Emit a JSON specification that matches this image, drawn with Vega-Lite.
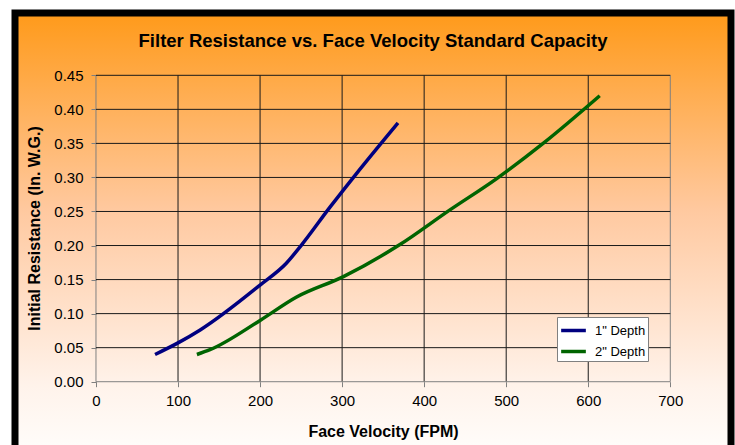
{
  "$schema": "https://vega.github.io/schema/vega-lite/v6.json",
  "width": 716,
  "height": 440,
  "autosize": {"type": "none"},
  "padding": {"left": 15, "top": 13, "right": 4, "bottom": -8},
  "background": "white",
  "title": {
    "text": "Filter Resistance vs. Face Velocity Standard Capacity",
    "font": "Liberation Sans",
    "fontSize": 18.5,
    "fontWeight": "bold",
    "color": "black",
    "anchor": "middle",
    "offset": -37
  },
  "config": {
    "view": {
      "fill": {
        "gradient": "linear",
        "x1": 0, "y1": 0, "x2": 0, "y2": 1,
        "stops": [
          {"offset": 0, "color": "#FF9A1A"},
          {"offset": 0.45, "color": "#FFC9A0"},
          {"offset": 0.85, "color": "#FFF3EB"},
          {"offset": 1, "color": "#FFFDFB"}
        ]
      },
      "stroke": "black",
      "strokeWidth": 7
    },
    "axisX": {
      "offset": -71.3,
      "grid": false, "domain": false,
      "tickSize": 5, "tickColor": "#808080",
      "labelFont": "Liberation Sans", "labelFontSize": 15, "labelColor": "black",
      "labelPadding": 7, "labelFlush": false, "labelOverlap": false,
      "titleFont": "Liberation Sans", "titleFontSize": 16, "titleFontWeight": "bold", "titleColor": "black",
      "titleX": 368, "titlePadding": 15
    },
    "axisY": {
      "offset": -81,
      "grid": false, "domain": false,
      "tickSize": 5, "tickColor": "#808080",
      "labelFont": "Liberation Sans", "labelFontSize": 15, "labelColor": "black",
      "labelPadding": 8, "labelOverlap": false,
      "titleFont": "Liberation Sans", "titleFontSize": 16, "titleFontWeight": "bold", "titleColor": "black",
      "titleY": 215, "titlePadding": 11
    }
  },
  "datasets": {
    "gridx": [{"v": 0}, {"v": 100}, {"v": 200}, {"v": 300}, {"v": 400}, {"v": 500}, {"v": 600}, {"v": 700}],
    "gridy": [{"v": 0}, {"v": 0.05}, {"v": 0.1}, {"v": 0.15}, {"v": 0.2}, {"v": 0.25}, {"v": 0.3}, {"v": 0.35}, {"v": 0.4}, {"v": 0.45}],
    "curves": [
      {"depth": "1\" Depth", "fpm": 72, "res": 0.040},
      {"depth": "1\" Depth", "fpm": 100, "res": 0.057},
      {"depth": "1\" Depth", "fpm": 127, "res": 0.076},
      {"depth": "1\" Depth", "fpm": 200, "res": 0.142},
      {"depth": "1\" Depth", "fpm": 232, "res": 0.174},
      {"depth": "1\" Depth", "fpm": 250, "res": 0.200},
      {"depth": "1\" Depth", "fpm": 285, "res": 0.256},
      {"depth": "1\" Depth", "fpm": 317, "res": 0.305},
      {"depth": "1\" Depth", "fpm": 368, "res": 0.380},
      {"depth": "2\" Depth", "fpm": 123, "res": 0.040},
      {"depth": "2\" Depth", "fpm": 139, "res": 0.047},
      {"depth": "2\" Depth", "fpm": 200, "res": 0.090},
      {"depth": "2\" Depth", "fpm": 244, "res": 0.124},
      {"depth": "2\" Depth", "fpm": 301, "res": 0.154},
      {"depth": "2\" Depth", "fpm": 370, "res": 0.201},
      {"depth": "2\" Depth", "fpm": 431, "res": 0.252},
      {"depth": "2\" Depth", "fpm": 488, "res": 0.298},
      {"depth": "2\" Depth", "fpm": 545, "res": 0.350},
      {"depth": "2\" Depth", "fpm": 614, "res": 0.420}
    ]
  },
  "layer": [
    {
      "data": {"name": "gridx"},
      "mark": {"type": "rule", "strokeWidth": 1},
      "encoding": {
        "x": {"field": "v", "type": "quantitative", "title": "Face Velocity (FPM)", "scale": {"domain": [-98.7, 774.0], "nice": false, "zero": false}, "axis": {"values": [0, 100, 200, 300, 400, 500, 600, 700]}},
        "y": {"datum": 0, "type": "quantitative", "title": "Initial Resistance (In. W.G.)", "scale": {"domain": [-0.1047, 0.5415], "nice": false, "zero": false}, "axis": {"values": [0, 0.05, 0.1, 0.15, 0.2, 0.25, 0.3, 0.35, 0.4, 0.45], "format": ".2f"}},
        "y2": {"datum": 0.45},
        "color": {"condition": {"test": "datum.v == 0 || datum.v == 700", "value": "#808080"}, "value": "#1a1a1a"}
      }
    },
    {
      "data": {"name": "gridy"},
      "mark": {"type": "rule", "strokeWidth": 1},
      "encoding": {
        "y": {"field": "v", "type": "quantitative", "title": "Initial Resistance (In. W.G.)", "scale": {"domain": [-0.1047, 0.5415], "nice": false, "zero": false}, "axis": {"values": [0, 0.05, 0.1, 0.15, 0.2, 0.25, 0.3, 0.35, 0.4, 0.45], "format": ".2f"}},
        "x": {"datum": 0, "type": "quantitative", "title": "Face Velocity (FPM)", "scale": {"domain": [-98.7, 774.0], "nice": false, "zero": false}, "axis": {"values": [0, 100, 200, 300, 400, 500, 600, 700]}},
        "x2": {"datum": 700},
        "color": {"condition": {"test": "datum.v == 0", "value": "#808080"}, "value": "#1a1a1a"}
      }
    },
    {
      "data": {"name": "curves"},
      "mark": {"type": "line", "interpolate": "monotone", "strokeWidth": 3.5},
      "encoding": {
        "x": {"field": "fpm", "type": "quantitative", "title": "Face Velocity (FPM)", "scale": {"domain": [-98.7, 774.0], "nice": false, "zero": false}, "axis": {"values": [0, 100, 200, 300, 400, 500, 600, 700]}},
        "y": {"field": "res", "type": "quantitative", "title": "Initial Resistance (In. W.G.)", "scale": {"domain": [-0.1047, 0.5415], "nice": false, "zero": false}, "axis": {"values": [0, 0.05, 0.1, 0.15, 0.2, 0.25, 0.3, 0.35, 0.4, 0.45], "format": ".2f"}},
        "color": {
          "field": "depth", "type": "nominal",
          "scale": {"domain": ["1\" Depth", "2\" Depth"], "range": ["#000080", "#006400"]},
          "legend": {
            "title": null,
            "orient": "none",
            "legendX": 542,
            "legendY": 304,
            "symbolType": "M-1.3,0H1.3",
            "symbolSize": 361,
            "symbolStrokeWidth": 3.5,
            "symbolOffset": 3,
            "labelFont": "Liberation Sans",
            "labelFontSize": 13,
            "labelColor": "black",
            "labelOffset": 10,
            "rowPadding": 2,
            "padding": 2,
            "strokeColor": "#808080",
            "fillColor": "white"
          }
        }
      }
    }
  ]
}
